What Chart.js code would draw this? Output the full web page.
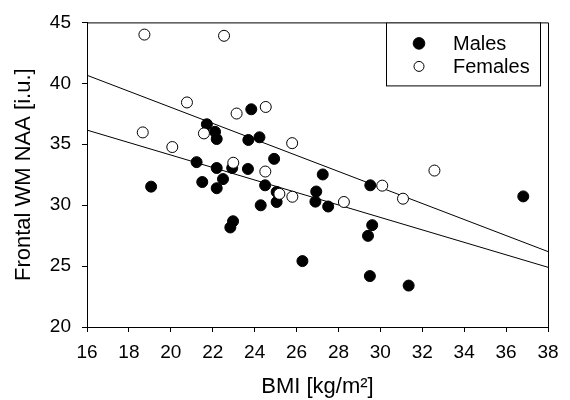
<!DOCTYPE html>
<html>
<head>
<meta charset="utf-8">
<script src="https://cdn.jsdelivr.net/npm/chart.js@4"></script>
<style>
  html, body { margin: 0; padding: 0; background: #fff; }
  #wrap { width: 570px; height: 400px; }
</style>
</head>
<body>
<div id="wrap"><canvas id="myChart" width="570" height="400"></canvas></div>
<script>
// valores
const malesBMI = [19.06, 21.23, 21.50, 21.72, 22.11, 22.19, 22.19, 22.19, 22.49, 22.84, 22.93, 22.97, 23.68, 23.70, 23.84, 24.23,
    24.29, 24.50, 24.93, 25.05, 25.05, 26.28, 26.90, 26.94, 27.25, 27.51, 29.41, 29.50, 29.52, 29.61, 31.35, 36.82];
const malesNAA = [31.52, 33.53, 31.90, 36.64, 36.02, 35.43, 33.05, 31.39, 32.14, 28.17, 33.05, 28.68, 32.97, 35.35, 37.87, 35.57,
    29.99, 31.63, 33.80, 31.09, 30.26, 25.41, 30.29, 31.12, 32.52, 29.89, 27.48, 24.18, 31.63, 28.36, 23.40, 30.72];

const femalesBMI = [18.66, 18.74, 20.07, 20.77, 21.58, 22.54, 22.98, 23.14, 24.51, 24.53, 25.18, 25.79, 25.80, 28.26, 30.09, 31.08, 32.58];
const femalesNAA = [35.97, 44.00, 34.77, 38.43, 35.89, 43.90, 33.48, 37.52, 32.76, 38.06, 30.93, 35.09, 30.69, 30.26, 31.60, 30.53, 32.84];

// retas de regressão (pontas em x = 16 e x = 38)
const retaX = [16, 38];
const retaSuperior = [40.66, 26.19];
const retaInferior = [36.16, 24.90];

const xTicks = [16, 18, 20, 22, 24, 26, 28, 30, 32, 34, 36, 38];
const yTicks = [20, 25, 30, 35, 40, 45];

const FONTE = "'Liberation Sans', Arial, Helvetica, sans-serif";

function pares(xs, ys) {
    return xs.map((x, i) => ({ x: x, y: ys[i] }));
}

// moldura (topo e direita) + legenda dentro do gráfico
const molduraELegenda = {
    id: 'molduraELegenda',
    afterDraw(chart) {
        const ctx = chart.ctx;
        const a = chart.chartArea;
        ctx.save();
        ctx.strokeStyle = '#000';
        ctx.lineWidth = 1;
        ctx.beginPath();
        ctx.moveTo(a.left, a.top + 0.5);
        ctx.lineTo(a.right + 0.5, a.top + 0.5);
        ctx.lineTo(a.right + 0.5, a.bottom);
        ctx.stroke();

        // caixa da legenda
        const bx = 386, by = a.top, bw = 154, bh = 63;
        ctx.fillStyle = '#fff';
        ctx.fillRect(bx, by, bw, bh);
        ctx.strokeRect(bx + 0.5, by + 0.5, bw, bh);

        const itens = [chart.data.datasets[0], chart.data.datasets[1]];
        const ys = [by + 21, by + 44];
        const raios = [5.8, 5];
        ctx.font = '20px ' + FONTE;
        ctx.textBaseline = 'middle';
        ctx.textAlign = 'left';
        itens.forEach((ds, i) => {
            ctx.beginPath();
            ctx.arc(419, ys[i], raios[i], 0, Math.PI * 2);
            ctx.fillStyle = ds.backgroundColor;
            ctx.fill();
            ctx.strokeStyle = '#000';
            ctx.stroke();
            ctx.fillStyle = '#000';
            ctx.fillText(ds.label, 453, ys[i] + 1);
        });
        ctx.restore();
    }
};

const ctx = document.getElementById('myChart').getContext('2d');

new Chart(ctx, {
    type: 'scatter',
    data: {
        datasets: [
            {
                label: 'Males',
                data: pares(malesBMI, malesNAA),
                backgroundColor: '#000',
                borderColor: '#000',
                borderWidth: 1,
                pointRadius: 5.5,
                order: 2
            },
            {
                label: 'Females',
                data: pares(femalesBMI, femalesNAA),
                backgroundColor: '#fff',
                borderColor: '#000',
                borderWidth: 1,
                pointRadius: 5.5,
                order: 1
            },
            {
                label: 'reta1',
                data: pares(retaX, retaSuperior),
                showLine: true,
                borderColor: '#000',
                borderWidth: 1,
                pointRadius: 0,
                order: 3
            },
            {
                label: 'reta2',
                data: pares(retaX, retaInferior),
                showLine: true,
                borderColor: '#000',
                borderWidth: 1,
                pointRadius: 0,
                order: 3
            }
        ]
    },
    options: {
        responsive: false,
        animation: false,
        layout: { padding: { top: 16, right: 22, left: 0, bottom: 0 } },
        plugins: {
            legend: { display: false },
            tooltip: { enabled: false }
        },
        scales: {
            x: {
                type: 'linear',
                min: 16,
                max: 38,
                afterBuildTicks: s => { s.ticks = xTicks.map(v => ({ value: v })); },
                afterFit: s => { s.height = 73; },
                grid: { drawOnChartArea: false, tickLength: 5, color: '#000' },
                border: { color: '#000', width: 1 },
                ticks: { color: '#000', font: { family: FONTE, size: 19 }, padding: 9, maxRotation: 0 },
                title: {
                    display: true,
                    text: 'BMI [kg/m²]',
                    color: '#000',
                    font: { family: FONTE, size: 22 },
                    padding: { top: 0, bottom: 0 }
                }
            },
            y: {
                type: 'linear',
                min: 20,
                max: 45,
                afterBuildTicks: s => { s.ticks = yTicks.map(v => ({ value: v })); },
                afterFit: s => { s.width = 87; },
                grid: { drawOnChartArea: false, tickLength: 5, color: '#000' },
                border: { color: '#000', width: 1 },
                ticks: { color: '#000', font: { family: FONTE, size: 19 }, padding: 11 },
                title: {
                    display: true,
                    text: 'Frontal WM NAA [i.u.]',
                    color: '#000',
                    font: { family: FONTE, size: 22 },
                    padding: { top: 11, bottom: 0 }
                }
            }
        }
    },
    plugins: [molduraELegenda]
});
</script>
</body>
</html>
